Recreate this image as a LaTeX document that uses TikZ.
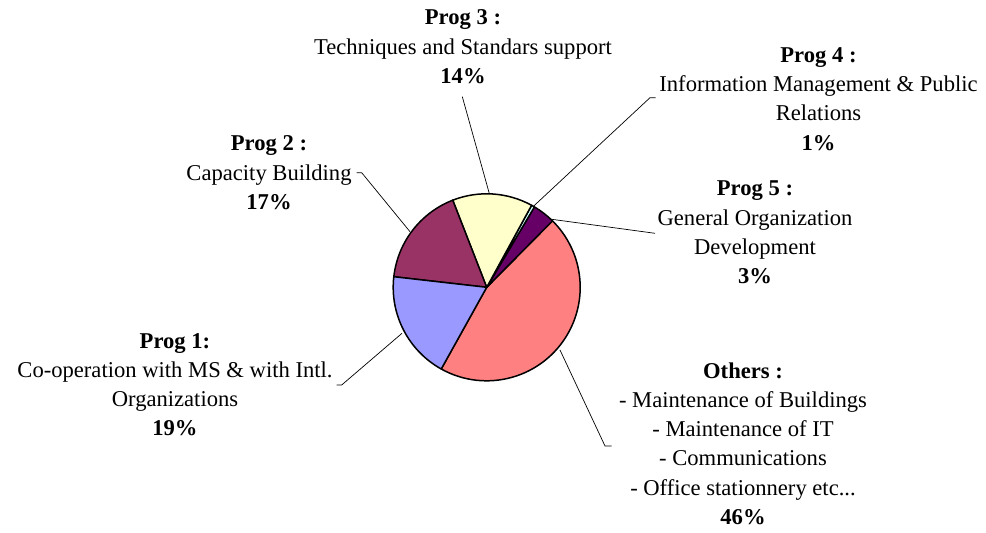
\documentclass[tikz,border=0pt]{standalone}
\usepackage{fontspec}
\setmainfont{Liberation Serif}
\definecolor{pYellow}{HTML}{FFFFCC}
\definecolor{pMaroon}{HTML}{993366}
\definecolor{pBlue}{HTML}{9999FF}
\definecolor{pPink}{HTML}{FF8080}
\definecolor{pPurple}{HTML}{660066}
\definecolor{pCyan}{HTML}{CCFFFF}
\begin{document}
\begin{tikzpicture}[x=1pt,y=1pt,
  slice/.style={draw=black, line width=1.5pt, line join=round},
  leader/.style={draw=black, line width=0.7pt},
  lbl/.style={inner sep=0pt, outer sep=0pt, anchor=base, font=\fontsize{22.6}{29.2}\selectfont}]
\useasboundingbox (0,0) rectangle (986,533);
\def\pieR{93.5}
\coordinate (c) at (486.7,245.7);
% label blocks
\node[lbl] (p3) at (463,508) {\begin{tabular}[t]{@{}c@{}}\textbf{Prog 3 :}\\Techniques and Standars support\\\textbf{14\%}\end{tabular}};
\node[lbl] (p4) at (818.5,470.5) {\begin{tabular}[t]{@{}c@{}}\textbf{Prog 4 :}\\Information Management \& Public\\Relations\\\textbf{1\%}\end{tabular}};
\node[lbl] (p5) at (755,337) {\begin{tabular}[t]{@{}c@{}}\textbf{Prog 5 :}\\General Organization\\Development\\\textbf{3\%}\end{tabular}};
\node[lbl] (p2) at (269,382) {\begin{tabular}[t]{@{}c@{}}\textbf{Prog 2 :}\\Capacity Building\\\textbf{17\%}\end{tabular}};
\node[lbl] (p1) at (175,184.7) {\begin{tabular}[t]{@{}c@{}}\textbf{Prog 1:}\\Co-operation with MS \& with Intl.\\Organizations\\\textbf{19\%}\end{tabular}};
\node[lbl] (po) at (743,154.7) {\begin{tabular}[t]{@{}c@{}}\textbf{Others :}\\- Maintenance of Buildings\\- Maintenance of IT\\- Communications\\- Office stationnery etc...\\\textbf{46\%}\end{tabular}};
% leader line points
\coordinate (a3) at (462.3,436.3);
\coordinate (r3) at (490,337);
\coordinate (a4) at (655.7,435.3);
\coordinate (b4) at (650,435.3);
\coordinate (r4) at (533,326.3);
\coordinate (a5) at (655,299.7);
\coordinate (r5) at (551.7,313.7);
\coordinate (a2) at (356.7,360.3);
\coordinate (b2) at (361.7,360.3);
\coordinate (r2) at (410,301.3);
\coordinate (a1) at (336.7,148);
\coordinate (b1) at (341.7,148);
\coordinate (r1) at (402,199.7);
\coordinate (ao) at (611.7,87);
\coordinate (bo) at (605,87);
\coordinate (ro) at (560,183);
\draw[leader] (a3) -- (r3);
\draw[leader] (a4) -- (b4) -- (r4);
\draw[leader] (a5) -- (r5);
\draw[leader] (a2) -- (b2) -- (r2);
\draw[leader] (a1) -- (b1) -- (r1);
\draw[leader] (ao) -- (bo) -- (ro);
% pie slices
\filldraw[slice, fill=pPink] (c) -- ++(240.9:\pieR) arc[start angle=240.9, end angle=405.3, radius=\pieR] -- cycle;
\filldraw[slice, fill=pPurple] (c) -- ++(45.3:\pieR) arc[start angle=45.3, end angle=59.3, radius=\pieR] -- cycle;
\filldraw[slice, fill=pCyan] (c) -- ++(59.3:\pieR) arc[start angle=59.3, end angle=61.3, radius=\pieR] -- cycle;
\filldraw[slice, fill=pYellow] (c) -- ++(61.3:\pieR) arc[start angle=61.3, end angle=111.3, radius=\pieR] -- cycle;
\filldraw[slice, fill=pMaroon] (c) -- ++(111.3:\pieR) arc[start angle=111.3, end angle=173.5, radius=\pieR] -- cycle;
\filldraw[slice, fill=pBlue] (c) -- ++(173.5:\pieR) arc[start angle=173.5, end angle=240.9, radius=\pieR] -- cycle;
\end{tikzpicture}
\end{document}
